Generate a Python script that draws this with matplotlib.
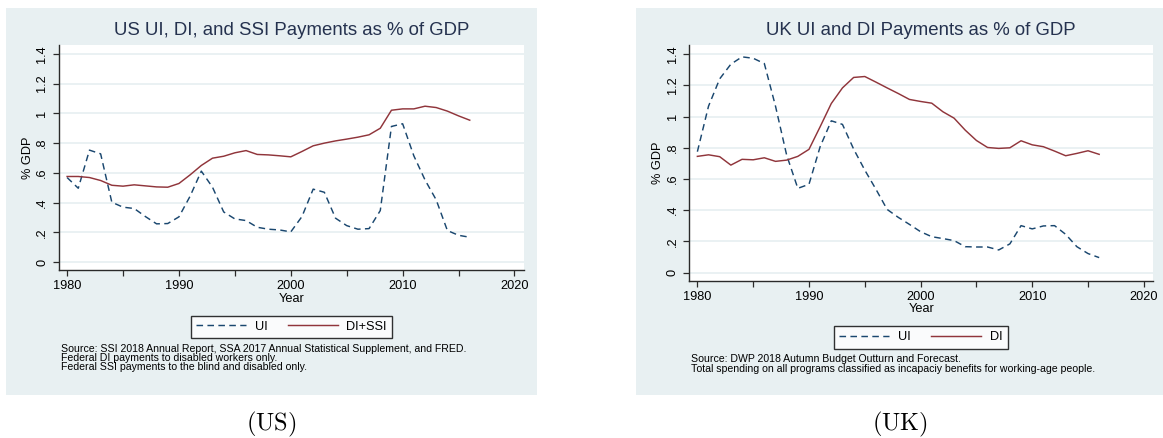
import matplotlib
matplotlib.use("Agg")
import matplotlib.pyplot as plt

plt.rcParams['font.family'] = ['Liberation Sans', 'DejaVu Sans']
plt.rcParams['mathtext.fontset'] = 'cm'

years = list(range(1980, 2017))

us_ui = [0.569, 0.497, 0.753, 0.728, 0.403, 0.370, 0.361, 0.307, 0.258, 0.260,
         0.305, 0.444, 0.612, 0.504, 0.338, 0.291, 0.280, 0.235, 0.222, 0.217,
         0.204, 0.307, 0.491, 0.470, 0.296, 0.246, 0.222, 0.226, 0.347, 0.912,
         0.930, 0.715, 0.553, 0.419, 0.213, 0.181, 0.168]
us_di_ssi = [0.576, 0.576, 0.569, 0.549, 0.517, 0.511, 0.520, 0.513, 0.506, 0.504,
             0.529, 0.587, 0.650, 0.699, 0.712, 0.735, 0.750, 0.724, 0.721, 0.715,
             0.708, 0.744, 0.782, 0.800, 0.815, 0.827, 0.840, 0.856, 0.900, 1.021,
             1.030, 1.030, 1.048, 1.039, 1.015, 0.983, 0.954]

uk_ui = [0.775, 1.067, 1.242, 1.336, 1.383, 1.374, 1.340, 1.067, 0.753, 0.540,
         0.566, 0.807, 0.973, 0.950, 0.792, 0.657, 0.534, 0.405, 0.354, 0.309,
         0.262, 0.230, 0.218, 0.205, 0.166, 0.164, 0.164, 0.145, 0.184, 0.301,
         0.280, 0.299, 0.301, 0.245, 0.166, 0.122, 0.096]
uk_di = [0.745, 0.755, 0.743, 0.689, 0.726, 0.723, 0.736, 0.713, 0.721, 0.745,
         0.790, 0.935, 1.084, 1.184, 1.251, 1.257, 1.221, 1.184, 1.148, 1.110,
         1.097, 1.086, 1.031, 0.990, 0.913, 0.847, 0.802, 0.796, 0.800, 0.845,
         0.819, 0.807, 0.779, 0.749, 0.764, 0.781, 0.758]

y_ticks = [0, 0.2, 0.4, 0.6, 0.8, 1.0, 1.2, 1.4]
y_tick_labels = ['0', '.2', '.4', '.6', '.8', '1', '1.2', '1.4']
x_major = [1980, 1990, 2000, 2010, 2020]
x_minor = [1985, 1995, 2005, 2015]

W, H = 1163, 438
BG = '#e8f0f2'
NAVY = '#1a476f'
MAROON = '#90353b'
INK = '#2a2a2a'

fig = plt.figure(figsize=(W / 100, H / 100), dpi=100)


def fx(x):
    return x / W


def fy(y):
    return 1 - y / H


def panel(x0, x1, ax_l, ax_r, ax_t, ax_b, title, ui, di, di_name, notes, caption):
    # light graph region behind the plot
    fig.patches.append(plt.Rectangle((fx(x0), fy(395)), fx(x1 - x0), (395 - 8) / H,
                                     transform=fig.transFigure, facecolor=BG,
                                     edgecolor='none', zorder=-10))
    ax = fig.add_axes([fx(ax_l), fy(ax_b), fx(ax_r - ax_l), (ax_b - ax_t) / H])
    ax.set_facecolor('white')
    ax.plot(years, ui, color=NAVY, lw=1.05, dashes=(4.5, 3), label='UI')
    ax.plot(years, di, color=MAROON, lw=1.05, label=di_name)

    ax.set_xlim(1979.25, 2020.85)
    ax.set_ylim(-0.054, 1.459)
    ax.set_yticks(y_ticks)
    ax.set_yticklabels(y_tick_labels, rotation=90, va='center')
    ax.set_xticks(x_major)
    ax.set_xticks(x_minor, minor=True)
    ax.tick_params(axis='both', which='both', length=4.5, width=0.9, color=INK,
                   labelsize=9.2, labelcolor='black')
    ax.tick_params(axis='x', pad=2.5)
    ax.tick_params(axis='y', pad=3)
    ax.grid(axis='y', color=BG, lw=1.3)
    ax.set_axisbelow(True)
    for s in ('top', 'right'):
        ax.spines[s].set_visible(False)
    for s in ('left', 'bottom'):
        ax.spines[s].set_color(INK)
        ax.spines[s].set_linewidth(1.0)

    h = ax_b - ax_t
    ax.set_xlabel('Year', fontsize=9.2)
    ax.xaxis.set_label_coords(0.5, -28.3 / h)
    ax.xaxis.label.set_va('center')
    ax.set_ylabel('% GDP', fontsize=9.2)
    ax.yaxis.set_label_coords(-0.066, 0.5)
    ax.yaxis.label.set_va('center')

    ax.set_title(title, fontsize=13.4, color='#25324f', pad=7)

    leg = ax.legend(loc='center', bbox_to_anchor=(0.5, -56.5 / h), ncol=2,
                    fontsize=9.2, frameon=True, fancybox=False, handlelength=3.9,
                    handletextpad=0.7, columnspacing=1.6, borderpad=0.4)
    leg.get_frame().set_edgecolor('black')
    leg.get_frame().set_linewidth(1.0)

    # source notes under the legend
    for i, line in enumerate(notes):
        fig.text(fx(ax_l + 2), fy(ax_b + 78.3 + 9.4 * i), line, fontsize=7.6,
                 ha='left', va='center')

    fig.text(fx((x0 + x1) / 2), fy(424), r'$\mathrm{(' + caption + ')}$',
             fontsize=17.5, ha='center', va='center')
    return ax


panel(6, 537, 58.7, 524, 45, 270.3,
      'US UI, DI, and SSI Payments as % of GDP', us_ui, us_di_ssi, 'DI+SSI',
      ['Source: SSI 2018 Annual Report, SSA 2017 Annual Statistical Supplement, and FRED.',
       'Federal DI payments to disabled workers only.',
       'Federal SSI payments to the blind and disabled only.'],
      'US')

panel(636, 1163, 689, 1153.3, 45, 281,
      'UK UI and DI Payments as % of GDP', uk_ui, uk_di, 'DI',
      ['Source: DWP 2018 Autumn Budget Outturn and Forecast.',
       'Total spending on all programs classified as incapaciy benefits for working-age people.'],
      'UK')

fig.savefig('out.png', dpi=100, facecolor='white')
